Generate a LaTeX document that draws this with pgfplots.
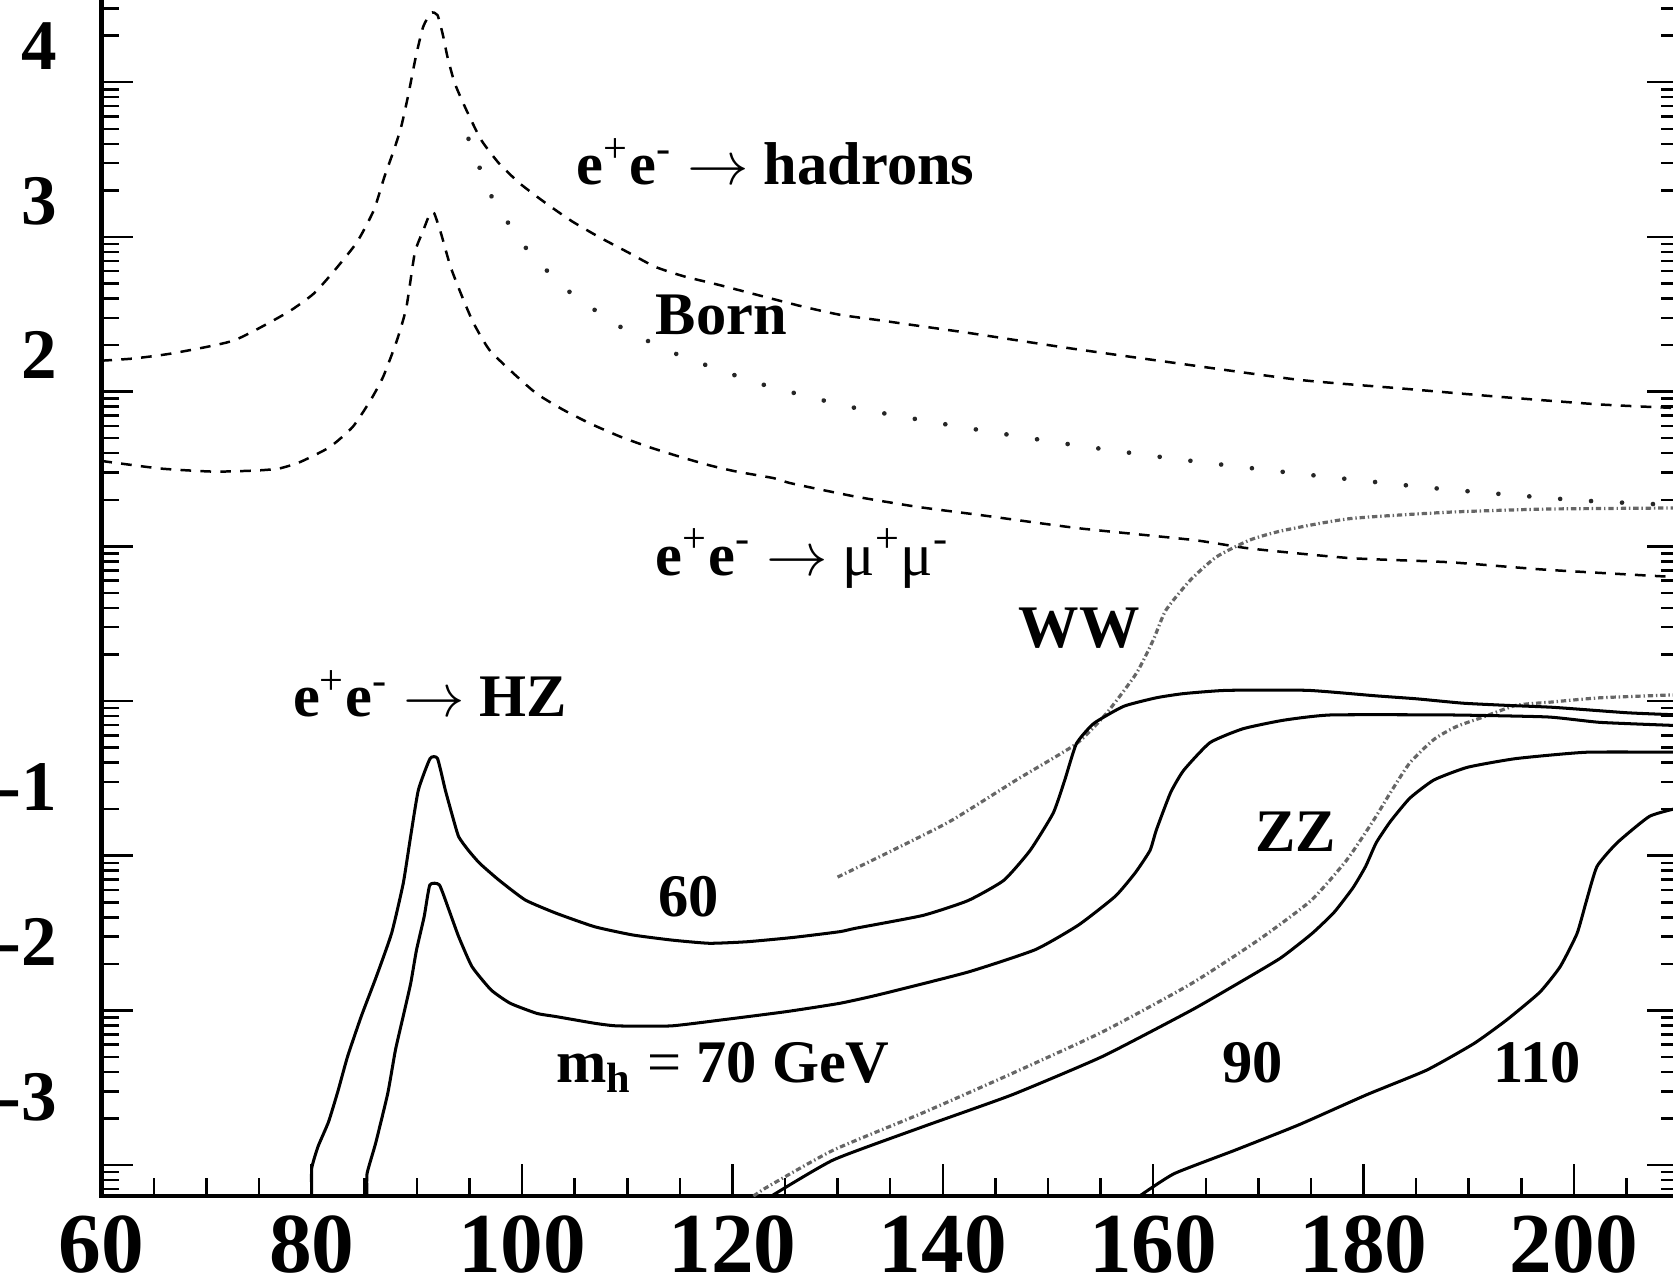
\documentclass[border=0pt]{standalone}
\usepackage{pgfplots}
\pgfplotsset{compat=1.18}
\usepackage{fontspec}
\setmainfont{Liberation Serif}
\newcommand{\annfont}{\fontsize{17}{17}\selectfont}
\tikzset{
  hadstyle/.style={black, line width=0.7pt, dash pattern=on 3pt off 2.6pt, smooth, tension=0.35},
  bornstyle/.style={black!85, line width=1.3pt, line cap=round, dash pattern=on 0.01pt off 8.7pt, smooth, tension=0.35},
  vvstyle/.style={black!60, line width=0.9pt, dash pattern=on 1.5pt off 0.8pt on 0.4pt off 0.8pt, smooth, tension=0.35},
  hzstyle/.style={black, line width=0.85pt, smooth, tension=0.3},
}
\begin{document}
\begin{tikzpicture}
\useasboundingbox (-28.5pt,-24.9pt) rectangle (441.9pt,336.3pt);
\clip (-28.5pt,-24.9pt) rectangle (441.9pt,336.3pt);
\begin{axis}[
  at={(0pt,0pt)}, anchor=south west,
  scale only axis,
  width=443.6pt, height=337.1pt,
  xmin=60, xmax=210, ymin=-3.2, ymax=4.55,
  axis line style={line width=1.3pt},
  tick style={line width=0.7pt, black},
  major tick length=9pt, minor tick length=5pt,
  tick align=inside,
  xtick pos=left,
  xtick={60,80,100,120,140,160,180,200},
  xticklabels={60,80,100,120,140,160,180,200},
  minor xtick={65,70,75,85,90,95,105,110,115,125,130,135,145,150,155,165,170,175,185,190,195,205},
  ytick={-3,-2,-1,0,1,2,3,4},
  yticklabels={\raisebox{9pt}{-3},\raisebox{9pt}{-2},\raisebox{9pt}{-1},{},{},2,3,4},
  minor ytick={-3.1549,-3.0969,-3.0458,
    -2.699,-2.5229,-2.3979,-2.301,-2.2218,-2.1549,-2.0969,-2.0458,
    -1.699,-1.5229,-1.3979,-1.301,-1.2218,-1.1549,-1.0969,-1.0458,
    -0.699,-0.5229,-0.3979,-0.301,-0.2218,-0.1549,-0.0969,-0.0458,
    0.301,0.4771,0.6021,0.699,0.7782,0.8451,0.9031,0.9542,
    1.301,1.4771,1.6021,1.699,1.7782,1.8451,1.9031,1.9542,
    2.301,2.4771,2.6021,2.699,2.7782,2.8451,2.9031,2.9542,
    3.301,3.4771,3.6021,3.699,3.7782,3.8451,3.9031,3.9542,
    4.301,4.4771},
  xticklabel style={font=\fontsize{24}{24}\selectfont\bfseries, anchor=north, inner sep=0pt, yshift=-5.2pt},
  yticklabel style={font=\fontsize{20}{20}\selectfont\bfseries, anchor=base east, inner sep=0pt, xshift=-12.3pt, yshift=3.6pt},
]
% e+e- -> hadrons
\addplot[hadstyle] coordinates {
(60,2.200) (63.04,2.214) (66.8,2.248) (72.6,2.331) (77.65,2.510) (80.2,2.634) (82.2,2.786) (84.3,2.966) (85.9,3.172) (86.9,3.386) (87.8,3.559) (88.5,3.710) (89.2,3.924) (89.9,4.166) (90.6,4.359) (91.35,4.448) (91.96,4.434) (92.5,4.297) (92.9,4.166) (93.6,3.993) (94.7,3.821) (96.1,3.628) (97.8,3.476) (99.8,3.345) (102.2,3.221) (104.7,3.103) (107.3,3.0) (110.0,2.903) (112.65,2.807) (115.4,2.745) (118.7,2.690) (122.6,2.621) (126.55,2.552) (130.2,2.497) (133.9,2.462) (137.4,2.428) (142.5,2.379) (151.8,2.283) (162.0,2.186) (173.9,2.076) (183.5,2.021) (193.0,1.966) (202.5,1.917) (210,1.893)
};
% Born
\addplot[bornstyle] coordinates {
(94.9,3.634) (96.0,3.441) (97.1,3.262) (98.75,3.083) (100.5,2.917) (102.6,2.766) (104.8,2.628) (107.3,2.510) (109.8,2.400) (112.5,2.310) (115.2,2.228) (118.0,2.159) (120.9,2.090) (123.8,2.028) (131.5,1.897) (141.7,1.772) (151.8,1.662) (162.0,1.566) (173.9,1.469) (187.3,1.372) (200.6,1.297) (210,1.266)
};
% e+e- -> mu+mu-
\addplot[hadstyle] coordinates {
(60,1.552) (65.6,1.503) (70.65,1.483) (74.7,1.490) (76.9,1.503) (78.9,1.545) (81.7,1.641) (83.9,1.772) (85.6,1.945) (86.8,2.097) (88.1,2.331) (89.0,2.545) (89.8,2.897) (90.6,3.041) (91.25,3.152) (91.65,3.152) (92.3,3.021) (93.2,2.807) (94.3,2.614) (95.4,2.441) (96.9,2.269) (99.2,2.117) (101.4,1.986) (103.9,1.883) (106.5,1.793) (109.3,1.710) (112.1,1.641) (115.0,1.579) (117.8,1.524) (120.4,1.483) (123.9,1.441) (125.6,1.407) (131.5,1.324) (137.6,1.255) (143.8,1.200) (152.9,1.117) (163.8,1.041) (169.2,0.986) (178.7,0.924) (188.2,0.897) (197.5,0.848) (210,0.800)
};
% WW
\addplot[vvstyle] coordinates {
(130.0,-1.138) (134.6,-0.986) (140.65,-0.779) (147.0,-0.510) (152.7,-0.276) (155.6,-0.076) (158.4,0.179) (160.0,0.393) (161.2,0.586) (163.5,0.779) (166.0,0.931) (169.2,1.041) (172.4,1.103) (178.7,1.179) (188.2,1.221) (197.5,1.241) (210,1.248)
};
% ZZ
\addplot[vvstyle] coordinates {
(122.0,-3.2) (123.4,-3.138) (129.6,-2.903) (138.1,-2.662) (146.6,-2.407) (155.2,-2.138) (163.6,-1.828) (170.0,-1.545) (175.0,-1.290) (178.4,-1.028) (181.0,-0.766) (182.55,-0.593) (184.4,-0.400) (186.7,-0.248) (188.8,-0.166) (191.4,-0.103) (194.5,-0.028) (197.8,-0.007) (202.5,0.021) (210,0.041)
};
% HZ, mh = 60
\addplot[hzstyle] coordinates {
(80,-3.2) (80,-3.021) (80.6,-2.88) (81.6,-2.72) (82.5,-2.52) (83.4,-2.30) (84.7,-2.04) (86.14,-1.782) (87.6,-1.50) (88.7,-1.179) (89.4,-0.877) (90.14,-0.575) (91.25,-0.372) (91.96,-0.372) (92.7,-0.575) (93.4,-0.748) (93.97,-0.877) (94.87,-0.963) (95.97,-1.049) (97.79,-1.157) (100.3,-1.286) (103.25,-1.372) (106.9,-1.459) (110.5,-1.512) (114.2,-1.545) (117.8,-1.566) (121.4,-1.556) (125.8,-1.528) (130.2,-1.491) (131.7,-1.469) (138.1,-1.386) (142.4,-1.290) (145.8,-1.159) (148.3,-0.966) (150.5,-0.724) (151.6,-0.510) (152.7,-0.276) (154.35,-0.145) (157.2,-0.034) (160.3,0.021) (162.9,0.048) (167.0,0.069) (174.7,0.069) (181.1,0.034) (185.1,0.014) (189.45,-0.014) (193.6,-0.028) (198.1,-0.041) (205.1,-0.076) (210,-0.090)
};
% HZ, mh = 70
\addplot[hzstyle] coordinates {
(85.26,-3.2) (85.26,-3.055) (86.07,-2.86) (87.23,-2.536) (87.96,-2.256) (88.69,-2.04) (89.41,-1.825) (89.96,-1.61) (90.69,-1.394) (91.23,-1.189) (92.14,-1.189) (93.05,-1.351) (93.97,-1.523) (95.24,-1.717) (97.06,-1.868) (98.88,-1.954) (101.4,-2.019) (103.25,-2.04) (106.9,-2.083) (109.06,-2.10) (114.16,-2.10) (118.9,-2.062) (125.1,-2.008) (130.2,-1.954) (134.0,-1.897) (142.4,-1.752) (148.8,-1.607) (152.9,-1.448) (156.4,-1.262) (158.3,-1.110) (159.7,-0.966) (160.3,-0.834) (161.65,-0.593) (162.9,-0.448) (165.4,-0.269) (168.55,-0.179) (172.4,-0.124) (176.9,-0.090) (188.2,-0.090) (197.5,-0.103) (202.5,-0.138) (210,-0.159)
};
% HZ, mh = 90
\addplot[hzstyle] coordinates {
(123.7,-3.2) (129.6,-2.966) (138.1,-2.752) (146.6,-2.545) (155.2,-2.297) (163.6,-2.0) (168.0,-1.828) (172.1,-1.662) (175.1,-1.503) (177.2,-1.366) (179.0,-1.207) (180.2,-1.069) (181.2,-0.917) (182.55,-0.779) (184.4,-0.628) (186.7,-0.510) (189.9,-0.428) (194.5,-0.372) (201.2,-0.331) (210,-0.331)
};
% HZ, mh = 110
\addplot[hzstyle] coordinates {
(158.7,-3.2) (162.0,-3.055) (167.8,-2.903) (173.9,-2.738) (180.3,-2.545) (186.0,-2.386) (190.5,-2.214) (193.6,-2.062) (196.75,-1.883) (198.7,-1.717) (200.3,-1.503) (201.2,-1.290) (202.2,-1.069) (204.1,-0.917) (207.2,-0.745) (210,-0.690)
};
% labels
\node[anchor=base west, inner sep=0pt, font=\annfont] at (axis cs:105.15,3.338) {\textbf{e}\textsuperscript{+}\textbf{e}\textsuperscript{-} $\rightarrow$ \textbf{hadrons}};
\node[anchor=base west, inner sep=0pt, font=\annfont] at (axis cs:112.65,2.372) {\textbf{Born}};
\node[anchor=base west, inner sep=0pt, font=\annfont] at (axis cs:112.65,0.814) {\textbf{e}\textsuperscript{+}\textbf{e}\textsuperscript{-} $\rightarrow$ μ\textsuperscript{+}μ\textsuperscript{-}};
\node[anchor=base west, inner sep=0pt, font=\annfont] at (axis cs:147.15,0.345) {\textbf{WW}};
\node[anchor=base west, inner sep=0pt, font=\annfont] at (axis cs:78.16,-0.103) {\textbf{e}\textsuperscript{+}\textbf{e}\textsuperscript{-} $\rightarrow$ \textbf{HZ}};
\node[anchor=base west, inner sep=0pt, font=\annfont] at (axis cs:112.86,-1.393) {\textbf{60}};
\node[anchor=base west, inner sep=0pt, font=\annfont] at (axis cs:169.67,-0.972) {\textbf{ZZ}};
\node[anchor=base west, inner sep=0pt, font=\annfont] at (axis cs:103.2,-2.469) {\textbf{m}\textsubscript{\textbf{h}} = \textbf{70 GeV}};
\node[anchor=base west, inner sep=0pt, font=\annfont] at (axis cs:166.5,-2.469) {\textbf{90}};
\node[anchor=base west, inner sep=0pt, font=\annfont] at (axis cs:192.3,-2.469) {\textbf{110}};
\end{axis}
\end{tikzpicture}
\end{document}
